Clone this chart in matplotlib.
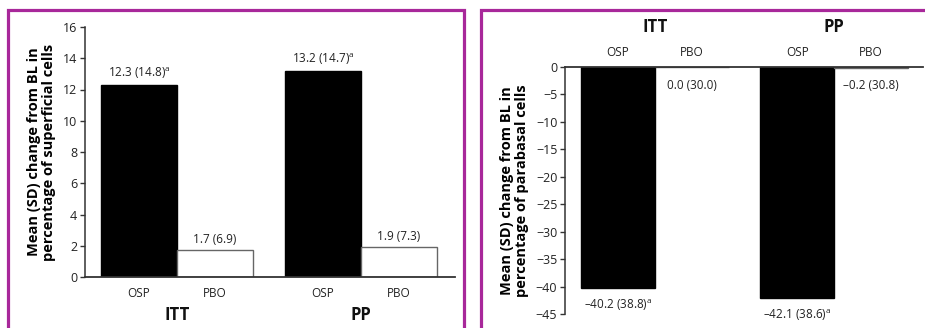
import matplotlib
matplotlib.use("Agg")
import matplotlib.pyplot as plt
from matplotlib.patches import Rectangle

plt.rcParams['font.family'] = ['Open Sans', 'DejaVu Sans']
plt.rcParams['mathtext.fontset'] = 'custom'
plt.rcParams['mathtext.rm'] = 'Open Sans'
plt.rcParams['mathtext.it'] = 'Open Sans'

# ---- data ----
groups = ["ITT", "PP"]
treatments = ["OSP", "PBO"]
superficial_vals = [12.3, 1.7, 13.2, 1.9]
superficial_labels = ["12.3 (14.8)$^{\\mathrm{a}}$", "1.7 (6.9)", "13.2 (14.7)$^{\\mathrm{a}}$", "1.9 (7.3)"]
parabasal_vals = [-40.2, 0.0, -42.1, -0.2]
parabasal_labels = ["\u201340.2 (38.8)$^{\\mathrm{a}}$", "0.0 (30.0)", "\u201342.1 (38.6)$^{\\mathrm{a}}$", "\u20130.2 (30.8)"]
left_ticks = [0, 2, 4, 6, 8, 10, 12, 14, 16]
right_ticks = [0, -5, -10, -15, -20, -25, -30, -35, -40, -45]
left_ylabel = "Mean (SD) change from BL in\npercentage of superficial cells"
right_ylabel = "Mean (SD) change from BL in\npercentage of parabasal cells"

W, H = 925, 328
fig = plt.figure(figsize=(W / 100, H / 100), dpi=100)
fig.patch.set_facecolor('white')

def frac(x0, y_top, x1, y_bot):
    return [x0 / W, 1 - y_bot / H, (x1 - x0) / W, (y_bot - y_top) / H]

xpos = [0, 1, 2.42, 3.42]
group_centers = [0.5, 2.92]
colors = ['black', 'white', 'black', 'white']
edges = ['black', '#666666', 'black', '#666666']
axc = '#333333'
txc = '#222222'
purple = '#A8289A'

# frames
fig.patches.append(Rectangle((8 / W, -0.1), (464.5 - 8) / W, 1.1 - 9.5 / H, transform=fig.transFigure,
                             fill=False, edgecolor=purple, lw=2.3))
fig.patches.append(Rectangle((480.5 / W, -0.1), 1.0, 1.1 - 9.5 / H, transform=fig.transFigure,
                             fill=False, edgecolor=purple, lw=2.3))

def style(ax):
    for s in ['top', 'right', 'bottom', 'left']:
        ax.spines[s].set_visible(False)
    ax.spines['left'].set_visible(True)
    ax.spines['left'].set_color(axc)
    ax.spines['left'].set_linewidth(1.1)
    ax.tick_params(axis='y', length=3.5, width=1.0, color=axc, labelsize=9, pad=2, labelcolor=txc)
    ax.tick_params(axis='x', length=0, labelsize=8.5, labelcolor=txc)
    ax.set_facecolor('none')

# ---- left panel ----
ax1 = fig.add_axes(frac(85, 27, 455, 277))
ax1.bar(xpos, superficial_vals, width=1.0, color=colors, edgecolor=edges, linewidth=1.0)
ax1.set_xlim(-0.71, 4.16)
ax1.set_ylim(0, 16)
ax1.set_yticks(left_ticks)
style(ax1)
ax1.axhline(0, color=axc, lw=1.3, clip_on=False)
ax1.set_xticks(xpos)
ax1.set_xticklabels(treatments * 2)
ax1.tick_params(axis='x', pad=7)
for x, v, t in zip(xpos, superficial_vals, superficial_labels):
    ax1.annotate(t, (x, v), xytext=(0, 3), textcoords='offset points', ha='center', va='bottom',
                 fontsize=8.5, color=txc)
for gx, g in zip(group_centers, groups):
    ax1.annotate(g, (gx, 0), xytext=(0, -27), textcoords='offset points', ha='center', va='center',
                 fontsize=12, fontweight='bold', annotation_clip=False, color='#111111')
ax1.set_ylabel(left_ylabel, fontsize=10.5, fontweight='bold', labelpad=5, linespacing=1.05)

# ---- right panel ----
ax2 = fig.add_axes(frac(565, 67, 923, 314))
ax2.bar(xpos, parabasal_vals, width=1.0, color=colors, edgecolor=edges, linewidth=1.0)
ax2.set_xlim(-0.716, 4.12)
ax2.set_ylim(-45, 0)
ax2.set_yticks(right_ticks)
style(ax2)
ax2.axhline(0, color=axc, lw=1.3, clip_on=False)
ax2.xaxis.tick_top()
ax2.set_xticks(xpos)
ax2.set_xticklabels(treatments * 2)
ax2.tick_params(axis='x', pad=6)
for i, (x, v, t) in enumerate(zip(xpos, parabasal_vals, parabasal_labels)):
    is_pbo = treatments[i % 2] == "PBO"
    off = -13.5 if is_pbo else -12.5
    ax2.annotate(t, (x, 0 if is_pbo else v), xytext=(0, off),
                 textcoords='offset points', ha='center', va='center',
                 fontsize=8.5, color=txc, annotation_clip=False)
for gx, g in zip(group_centers, groups):
    ax2.annotate(g, (gx, 0), xytext=(0, 29), textcoords='offset points', ha='center', va='center',
                 fontsize=12, fontweight='bold', annotation_clip=False, color='#111111')
ax2.set_ylabel(right_ylabel, fontsize=10.5, fontweight='bold', labelpad=5, linespacing=1.05)

fig.savefig("out.png", dpi=100, facecolor='white')
